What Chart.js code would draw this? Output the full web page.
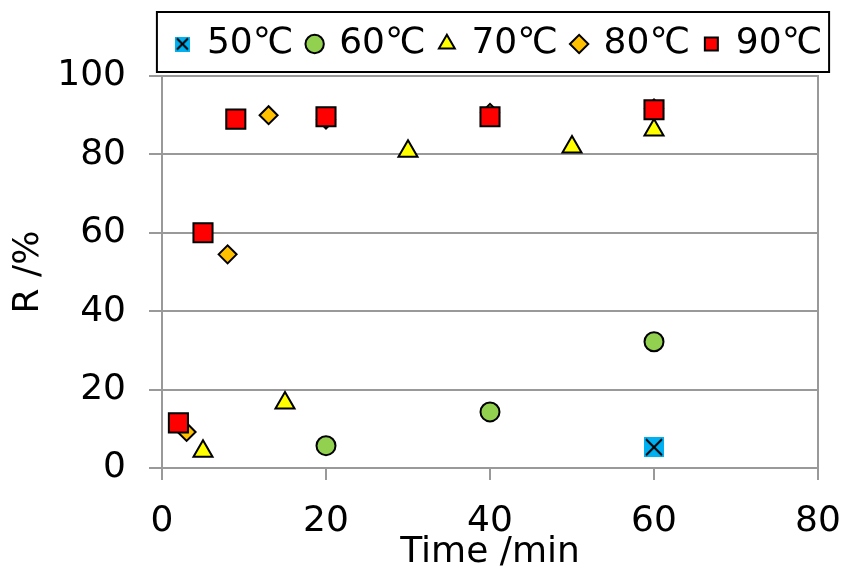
<!DOCTYPE html>
<html>
<head>
<meta charset="utf-8">
<script src="https://cdn.jsdelivr.net/npm/chart.js@4"></script>
<style>
  html, body { margin: 0; padding: 0; background: #fff; }
  canvas { display: block; }
</style>
</head>
<body>
<canvas id="chart" width="845" height="568"></canvas>
<script>
/* global Chart */
// series labels and values: [time min, R %]
const seriesNames = ['50℃', '60℃', '70℃', '80℃', '90℃'];
const t50 = [60];
const r50 = [5.3];
const t60 = [20, 40, 60];
const r60 = [5.7, 14.3, 32.2];
const t70 = [5, 15, 30, 50, 60];
const r70 = [4.3, 16.6, 80.8, 81.9, 86.2];
const t80 = [3, 8, 13, 20, 40, 60];
const r80 = [9.2, 54.5, 90.0, 88.9, 90.6, 91.7];
const t90 = [2, 5, 9, 20, 40, 60];
const r90 = [11.5, 60.0, 89.0, 89.6, 89.6, 91.4];

const xTicks = [0, 20, 40, 60, 80];
const yTicks = [0, 20, 40, 60, 80, 100];

const gridColor = '#999999';

function pairs(xs, ys) {
    return xs.map((x, i) => ({ x: x, y: ys[i] }));
}

// blue square with black X, used for 50℃
function crossBox(size) {
    const c = document.createElement('canvas');
    c.width = size;
    c.height = size;
    const g = c.getContext('2d');
    g.fillStyle = '#00b0f0';
    g.fillRect(0, 0, size, size);
    g.strokeStyle = '#000';
    g.lineWidth = 2;
    g.beginPath();
    g.moveTo(2, 2);
    g.lineTo(size - 2, size - 2);
    g.moveTo(size - 2, 2);
    g.lineTo(2, size - 2);
    g.stroke();
    return c;
}
const crossBig = crossBox(20);
const crossSmall = crossBox(15);

Chart.defaults.font.family = '"DejaVu Sans", Verdana, sans-serif';
Chart.defaults.color = '#000';

// legend centred over the plot, with a frame around it
const legendFrame = {
    id: 'legendFrame',
    afterLayout(chart) {
        const lg = chart.legend;
        const a = chart.chartArea;
        const dx = (a.left + a.right) / 2 + 9 - (lg.left + lg.right) / 2;
        lg.left += dx;
        lg.right += dx;
        lg.top -= 4;
        lg.bottom -= 4;
        lg.adjustHitBoxes();
    },
    afterDraw(chart) {
        const lg = chart.legend;
        const boxes = lg.legendHitBoxes;
        if (!boxes || !boxes.length) return;
        const l = Math.min(...boxes.map(b => b.left)) - 19;
        const r = Math.max(...boxes.map(b => b.left + b.width)) + 7;
        const ctx = chart.ctx;
        ctx.save();
        ctx.strokeStyle = '#000';
        ctx.lineWidth = 2;
        ctx.strokeRect(l, 12, r - l, 60);
        ctx.restore();
    }
};

// thin frame round the plot area
const plotFrame = {
    id: 'plotFrame',
    beforeDatasetsDraw(chart) {
        const a = chart.chartArea;
        const ctx = chart.ctx;
        ctx.save();
        ctx.strokeStyle = gridColor;
        ctx.lineWidth = 2;
        ctx.beginPath();
        ctx.moveTo(a.left, a.top);
        ctx.lineTo(a.right, a.top);
        ctx.lineTo(a.right, a.bottom);
        ctx.stroke();
        ctx.restore();
    }
};

const common = { borderColor: '#000', borderWidth: 2, showLine: false };

new Chart(document.getElementById('chart'), {
    type: 'scatter',
    data: {
        datasets: [
            { ...common, label: seriesNames[0], data: pairs(t50, r50), pointStyle: crossBig, backgroundColor: '#00b0f0', order: 5 },
            { ...common, label: seriesNames[1], data: pairs(t60, r60), pointStyle: 'circle', pointRadius: 9.5, backgroundColor: '#92d050', order: 4 },
            { ...common, label: seriesNames[2], data: pairs(t70, r70), pointStyle: 'triangle', pointRadius: 11, backgroundColor: '#ffff00', order: 3 },
            { ...common, label: seriesNames[3], data: pairs(t80, r80), pointStyle: 'rectRot', pointRadius: 9, backgroundColor: '#ffc000', order: 2 },
            { ...common, label: seriesNames[4], data: pairs(t90, r90), pointStyle: 'rect', pointRadius: 13.5, backgroundColor: '#ff0000', order: 1 }
        ]
    },
    options: {
        responsive: false,
        animation: false,
        layout: { padding: { top: 15, right: 27, left: 0, bottom: 0 } },
        plugins: {
            tooltip: { enabled: false },
            legend: {
                position: 'top',
                labels: {
                    usePointStyle: true,
                    boxWidth: 13,
                    boxHeight: 13,
                    padding: 15,
                    font: { size: 36 },
                    sort: (a, b) => a.datasetIndex - b.datasetIndex,
                    generateLabels(chart) {
                        const items = Chart.defaults.plugins.legend.labels.generateLabels(chart);
                        items.forEach(it => {
                            if (it.datasetIndex === 0) it.pointStyle = crossSmall;
                        });
                        return items;
                    }
                }
            }
        },
        scales: {
            x: {
                type: 'linear',
                min: 0,
                max: 80,
                afterBuildTicks(scale) { scale.ticks = xTicks.map(v => ({ value: v })); },
                afterFit(scale) {
                    scale.height = 100;
                    scale.paddingRight = 0;
                },
                grid: { drawOnChartArea: false, color: gridColor, lineWidth: 2, tickLength: 12 },
                border: { color: gridColor, width: 2 },
                ticks: { font: { size: 36 }, padding: 20, maxRotation: 0 },
                title: { display: true, text: 'Time /min', font: { size: 36 }, padding: { top: 0, bottom: -6 } }
            },
            y: {
                min: 0,
                max: 100,
                afterBuildTicks(scale) { scale.ticks = yTicks.map(v => ({ value: v })); },
                afterFit(scale) { scale.width = 162; },
                grid: { color: gridColor, lineWidth: 2, tickLength: 13 },
                border: { color: gridColor, width: 2 },
                ticks: { font: { size: 36 }, padding: 23 },
                title: { display: true, text: 'R /%', font: { size: 36 }, padding: { top: 7, bottom: 0 } }
            }
        }
    },
    plugins: [legendFrame, plotFrame]
});
</script>
</body>
</html>
